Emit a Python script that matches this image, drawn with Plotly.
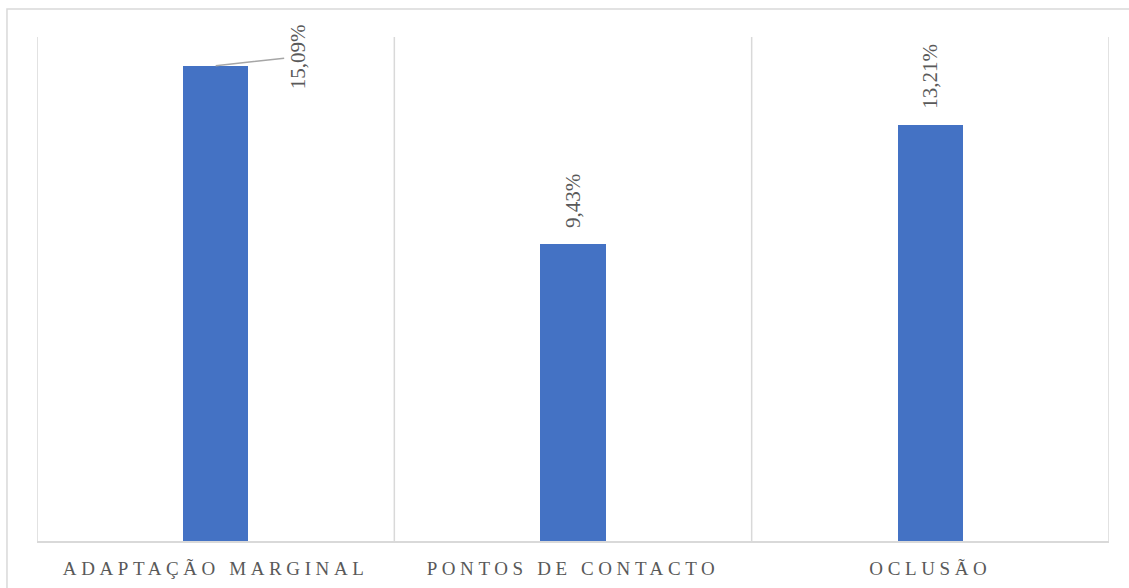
import plotly.graph_objects as go

categories = ["ADAPTAÇÃO MARGINAL", "PONTOS DE CONTACTO", "OCLUSÃO"]
values = [15.09, 9.43, 13.21]
value_labels = ["15,09%", "9,43%", "13,21%"]

BAR_COLOR = "#4472C4"
GRID_COLOR = "#d9d9d9"
TEXT_COLOR = "#595959"
FONT = "Liberation Serif, Times New Roman, serif"

xs = list(range(len(categories)))

fig = go.Figure()
fig.add_trace(go.Bar(
    x=xs, y=values, width=0.182,
    marker=dict(color=BAR_COLOR, line=dict(width=0)),
    hoverinfo="skip",
))

# data labels
for i, (v, lab) in enumerate(zip(values, value_labels)):
    if i == 0:
        fig.add_annotation(
            x=i, y=v, text=lab, textangle=-90, showarrow=True,
            arrowhead=0, arrowwidth=1.5, arrowcolor="#a6a6a6",
            ax=82, ay=-9, axref="pixel", ayref="pixel",
            font=dict(family=FONT, size=21, color=TEXT_COLOR),
        )
    else:
        fig.add_annotation(
            x=i, y=v, text=lab, textangle=-90, showarrow=False,
            yanchor="bottom", yshift=14,
            font=dict(family=FONT, size=21, color=TEXT_COLOR),
        )

# category divider lines
for b in [-0.5, 0.5, 1.5, 2.5]:
    fig.add_shape(type="line", xref="x", yref="paper", x0=b, x1=b, y0=0, y1=1,
                  line=dict(color=GRID_COLOR, width=1.5), layer="below")

# outer chart border
fig.add_shape(type="rect", xref="paper", yref="paper",
              x0=-0.028, x1=1.05, y0=-0.3, y1=1.0556,
              line=dict(color=GRID_COLOR, width=1.5), layer="below")

ticktext = ['<span style="letter-spacing:4.6px">%s</span>' % c for c in categories]

fig.update_layout(
    width=1129, height=588,
    margin=dict(l=37, r=20, t=37, b=47),
    paper_bgcolor="white", plot_bgcolor="white",
    showlegend=False,
    hovermode=False,
    xaxis=dict(
        range=[-0.5, 2.5], tickvals=xs, ticktext=ticktext,
        showgrid=False, zeroline=False, showline=True,
        linecolor=GRID_COLOR, linewidth=2,
        ticks="outside", ticklen=9, tickcolor="rgba(0,0,0,0)",
        tickfont=dict(family=FONT, size=19, color=TEXT_COLOR),
        automargin=False, fixedrange=True,
    ),
    yaxis=dict(range=[0, 16], visible=False, showgrid=False, zeroline=False,
               automargin=False, fixedrange=True),
    bargap=0,
)

fig.write_html(
    "out.html",
    config={"displayModeBar": False, "staticPlot": True},
    post_script="document.body.style.margin='0';document.body.style.overflow='hidden';",
)
